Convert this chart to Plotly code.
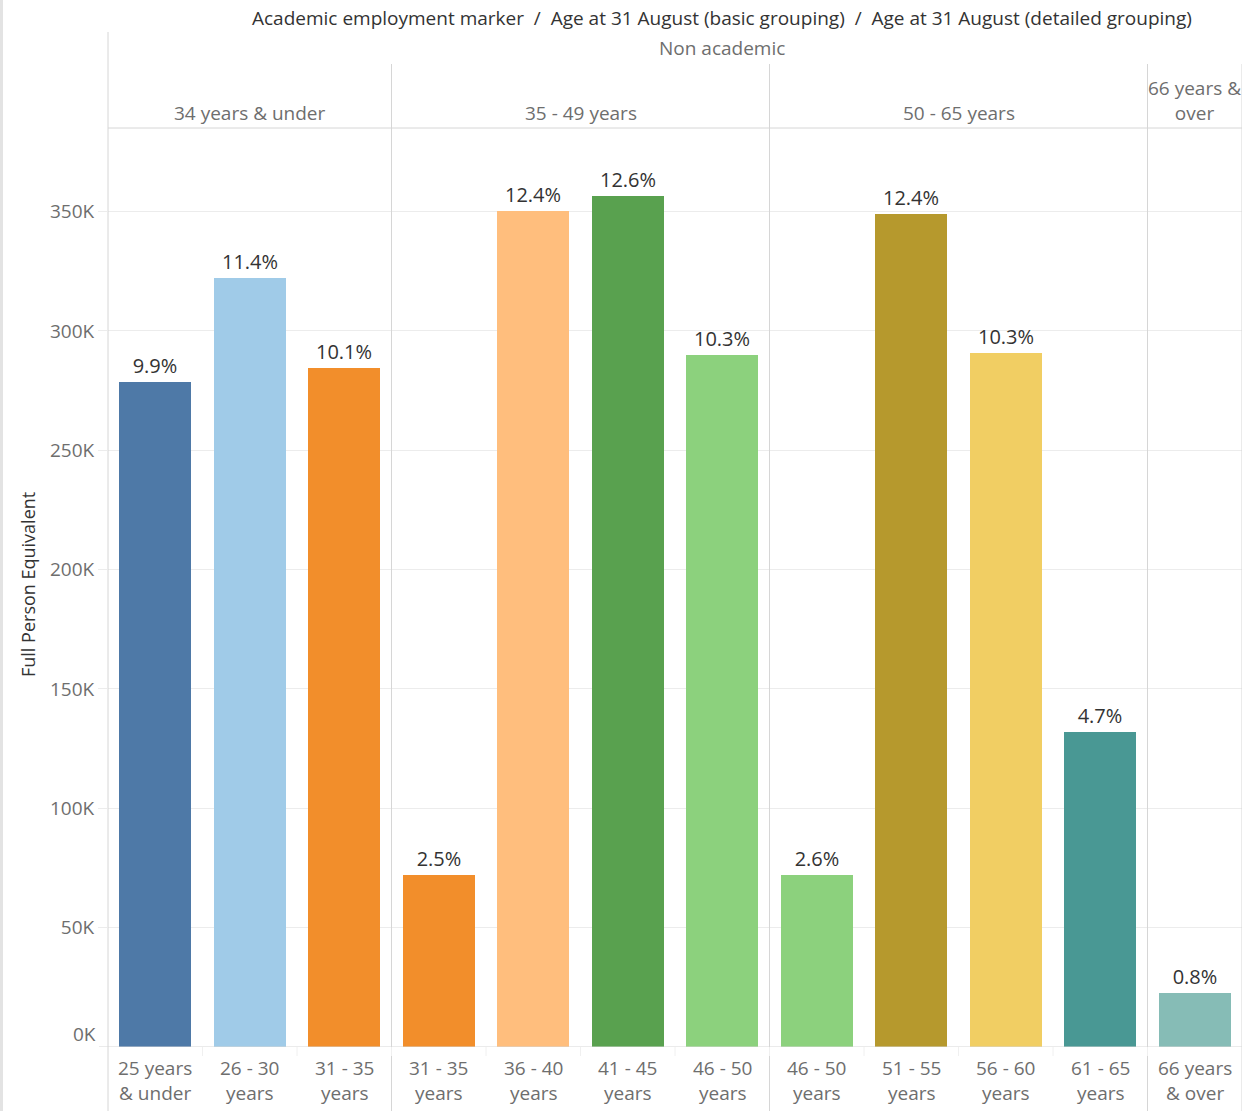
import plotly.graph_objects as go

# ---- data ----
basic_groups = ["34 years & under", "35 - 49 years", "50 - 65 years", "66 years &<br>over"]
basic_sizes = [3, 4, 4, 1]
detail_labels = ["25 years<br>& under", "26 - 30<br>years", "31 - 35<br>years",
                 "31 - 35<br>years", "36 - 40<br>years", "41 - 45<br>years", "46 - 50<br>years",
                 "46 - 50<br>years", "51 - 55<br>years", "56 - 60<br>years", "61 - 65<br>years",
                 "66 years<br>& over"]
fpe_values = [278800, 322000, 284300, 71900, 350200, 356400, 289700,
              71900, 348800, 290600, 131800, 22800]
pct_labels = ["9.9%", "11.4%", "10.1%", "2.5%", "12.4%", "12.6%", "10.3%",
              "2.6%", "12.4%", "10.3%", "4.7%", "0.8%"]
bar_colors = ["#4E79A7", "#A0CBE8", "#F28E2B", "#F28E2B", "#FFBE7D", "#59A14F", "#8CD17D",
              "#8CD17D", "#B6992D", "#F1CE63", "#499894", "#86BCB6"]
y_ticks = [0, 50000, 100000, 150000, 200000, 250000, 300000, 350000]
y_tick_text = ["0K", "50K", "100K", "150K", "200K", "250K", "300K", "350K"]
title_text = ("Academic employment marker  /  Age at 31 August (basic grouping)  /  "
              "Age at 31 August (detailed grouping)")
marker_text = "Non academic"

# ---- layout constants ----
W, H = 1248, 1111
L, R, T, B = 108, 6, 128, 64
PW, PH = W - L - R, H - T - B
FONT = "Open Sans"
FS = 19
GRAY = "#6e6e6e"
DARK = "#333333"
LINE = "#d6d6d6"
n = len(fpe_values)


def py(ypx):
    return (H - B - ypx) / PH


def px_x(xpx):
    return (xpx - L) / PW


fig = go.Figure()
fig.add_trace(go.Bar(
    x=list(range(n)), y=fpe_values, width=0.76,
    marker=dict(color=bar_colors, line=dict(width=0)),
    text=pct_labels, textposition="outside",
    textfont=dict(family=FONT, size=20, color=DARK),
    cliponaxis=False, hoverinfo="skip",
))

annotations = []
# title lines
annotations.append(dict(text=title_text, x=px_x(722), y=py(18), xref="paper", yref="paper",
                        showarrow=False, font=dict(family=FONT, size=FS, color=DARK),
                        xanchor="center", yanchor="middle"))
annotations.append(dict(text=marker_text, x=px_x(722), y=py(48), xref="paper", yref="paper",
                        showarrow=False, font=dict(family=FONT, size=FS, color=GRAY),
                        xanchor="center", yanchor="middle"))
# basic group headers
start = 0
for g, s in zip(basic_groups, basic_sizes):
    center = start + (s - 1) / 2
    ycen = 100 if "<br>" in g else 113
    annotations.append(dict(text=g, x=center, y=py(ycen), xref="x", yref="paper",
                            showarrow=False, font=dict(family=FONT, size=FS, color=GRAY),
                            xanchor="center", yanchor="middle"))
    start += s
# detail labels
for i, lab in enumerate(detail_labels):
    annotations.append(dict(text=lab, x=i, y=py(1080), xref="x", yref="paper",
                            showarrow=False, font=dict(family=FONT, size=FS, color=GRAY),
                            xanchor="center", yanchor="middle"))
# 0K label (offset above baseline like the original)
annotations.append(dict(text=y_tick_text[0], x=px_x(98), y=y_ticks[0], xref="paper", yref="y",
                        showarrow=False, font=dict(family=FONT, size=FS, color=GRAY),
                        xanchor="right", yanchor="middle", yshift=13))
# y title
annotations.append(dict(text="Full Person Equivalent", x=px_x(28), y=py(585), xref="paper",
                        yref="paper", showarrow=False, textangle=-90,
                        font=dict(family=FONT, size=18, color=DARK),
                        xanchor="center", yanchor="middle"))

shapes = []
# left strip border
shapes.append(dict(type="rect", xref="paper", yref="paper", x0=px_x(0), x1=px_x(3),
                   y0=py(H), y1=py(0), fillcolor="#e3e3e3", line=dict(width=0), layer="below"))
# left axis line
shapes.append(dict(type="line", xref="paper", yref="paper", x0=px_x(108), x1=px_x(108),
                   y0=py(32), y1=py(H), line=dict(color=LINE, width=1)))
# group separators and right line
start = 0
for s in basic_sizes:
    start += s
    shapes.append(dict(type="line", xref="x", yref="paper", x0=start - 0.5, x1=start - 0.5,
                       y0=py(64), y1=py(H), line=dict(color=LINE, width=1)))
# header horizontal line
shapes.append(dict(type="line", xref="paper", yref="paper", x0=0, x1=1, y0=py(128), y1=py(128),
                   line=dict(color=LINE, width=1)))
# bottom axis line
shapes.append(dict(type="line", xref="paper", yref="y", x0=px_x(99), x1=1, y0=0, y1=0,
                   line=dict(color=LINE, width=1)))
# faint category ticks in the label area
for i in range(1, n):
    shapes.append(dict(type="line", xref="x", yref="paper", x0=i - 0.5, x1=i - 0.5,
                       y0=py(1047), y1=py(1056), line=dict(color="#f0f0f0", width=1)))

fig.update_layout(
    width=W, height=H,
    margin=dict(l=L, r=R, t=T, b=B, pad=0),
    paper_bgcolor="white", plot_bgcolor="white",
    showlegend=False, bargap=0,
    annotations=annotations, shapes=shapes,
    font=dict(family=FONT),
)
fig.update_xaxes(range=[-0.5, n - 0.5], showticklabels=False, showgrid=False,
                 zeroline=False, showline=False, fixedrange=True)
fig.update_yaxes(range=[0, 385000], tickvals=y_ticks[1:], ticktext=y_tick_text[1:],
                 showgrid=True, gridcolor="#ececec", gridwidth=1, zeroline=False,
                 ticks="outside", ticklen=9, tickcolor="#ececec",
                 tickfont=dict(family=FONT, size=FS, color=GRAY), ticklabelstandoff=0,
                 showline=False, fixedrange=True)

fig.write_html("out.html")
